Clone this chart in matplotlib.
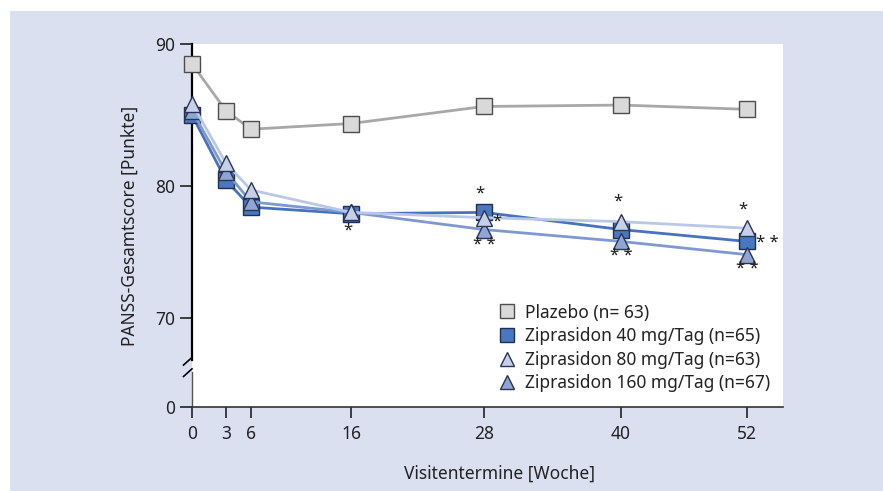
import numpy as np
import matplotlib
matplotlib.use('Agg')
import matplotlib.pyplot as plt
from matplotlib.lines import Line2D
from matplotlib.patches import Rectangle

plt.rcParams['font.family'] = ['Noto Sans', 'DejaVu Sans']

# data
weeks = [0, 3, 6, 16, 28, 40, 52]
plazebo = [88.6, 85.3, 84.0, 84.4, 85.6, 85.7, 85.4]
zip40 = [85.0, 80.4, 78.4, 77.9, 78.0, 76.7, 75.8]
zip80 = [85.8, 81.6, 79.7, 78.0, 77.6, 77.3, 76.8]
zip160 = [85.3, 81.0, 78.8, 78.0, 76.7, 75.8, 74.8]
labels = ['Plazebo (n= 63)', 'Ziprasidon 40 mg/Tag (n=65)',
          'Ziprasidon 80 mg/Tag (n=63)', 'Ziprasidon 160 mg/Tag (n=67)']
# significance marks (week, score, text)
stars = [(15.7, 76.6, '*'), (27.6, 79.4, '*'), (29.1, 77.3, '*'), (28.0, 75.5, '* *'),
         (39.7, 78.8, '*'), (40.0, 74.7, '* *'), (51.6, 78.2, '*'), (53.9, 75.7, '* *'),
         (52.0, 73.7, '* *')]

# broken / uneven axis scales as in the original drawing
xv = [-5, 0, 3, 6, 16, 28, 40, 52, 60]
xp = [-53, 0, 34, 59, 159, 292, 429, 555, 640]
yv = [-10, 0, 70, 80, 90, 100]
yp = [-89 / 7, 0, 89, 221, 363, 505]

fx = lambda v: np.interp(v, xv, xp)
ix = lambda p: np.interp(p, xp, xv)
fy = lambda v: np.interp(v, yv, yp)
iy = lambda p: np.interp(p, yp, yv)

fig = plt.figure(figsize=(8.83, 4.91), dpi=100, facecolor='white')
fig.patches.append(Rectangle((10 / 883, 0), 1, 480 / 491, transform=fig.transFigure,
                             facecolor='#dbe0f1', edgecolor='none', zorder=-10))
ax = fig.add_axes([192 / 883, 84 / 491, 591 / 883, 363 / 491])
ax.set_facecolor('white')
ax.set_xscale('function', functions=(fx, ix))
ax.set_yscale('function', functions=(fy, iy))
ax.set_xlim(0, ix(591))
ax.set_ylim(0, 90)

ax.plot(weeks, plazebo, color='#a8a8a8', lw=2, marker='s', ms=11,
        mfc='#d9d9d9', mec='#4d4d4d', mew=1, zorder=3, clip_on=False)
ax.plot(weeks, zip40, color='#4673bb', lw=2, marker='s', ms=11,
        mfc='#4a78c0', mec='#1f2f4f', mew=1, zorder=4, clip_on=False)
ax.plot(weeks, zip160, color='#7f99d0', lw=2, marker='^', ms=12,
        mfc='#8fa5d6', mec='#2a3550', mew=1, zorder=5, clip_on=False)
ax.plot(weeks, zip80, color='#bac8e7', lw=2, marker='^', ms=12,
        mfc='#c6d0ea', mec='#2a3550', mew=1, zorder=6, clip_on=False)

for x, y, t in stars:
    ax.text(x, y, t, ha='center', va='center', fontsize=12, color='#222222', zorder=7)

# axes
for s in ['top', 'right', 'left']:
    ax.spines[s].set_visible(False)
ax.spines['bottom'].set_color('#333333')
ax.spines['bottom'].set_linewidth(1.2)
ax.plot([0, 0], [37, 90], color='black', lw=1.6, clip_on=False, zorder=2)
ax.plot([0, 0], [0, 27.5], color='#555555', lw=1, clip_on=False, zorder=2)
ax.plot([-0.8, 0], [33, 39], color='black', lw=1.2, clip_on=False)
ax.plot([-0.8, 0], [24, 30], color='black', lw=1.2, clip_on=False)

ax.set_xticks(weeks)
ax.set_yticks([0, 70, 80, 90])
ax.tick_params(axis='both', direction='out', length=9, width=1.2, color='#222222',
               labelsize=12.5, labelcolor='#222222')
ax.tick_params(axis='x', length=8, pad=5)
ax.tick_params(axis='y', pad=3)

ax.set_ylabel('PANSS-Gesamtscore [Punkte]', fontsize=12.5, color='#222222')
ax.set_xlabel('Visitentermine [Woche]', fontsize=12.5, color='#222222')
ax.yaxis.set_label_coords(-0.09, 0.5)
ax.xaxis.set_label_coords(0.52, -0.16)

handles = [
    Line2D([], [], ls='none', marker='s', ms=10, mfc='#d9d9d9', mec='#4d4d4d'),
    Line2D([], [], ls='none', marker='s', ms=10, mfc='#4a78c0', mec='#1f2f4f'),
    Line2D([], [], ls='none', marker='^', ms=10, mfc='#c6d0ea', mec='#2a3550'),
    Line2D([], [], ls='none', marker='^', ms=10, mfc='#8fa5d6', mec='#2a3550'),
]
ax.legend(handles, labels, loc='upper left', bbox_to_anchor=(0.52, 0.285), frameon=False,
          fontsize=12.5, handlelength=0.9, handletextpad=0.6, labelspacing=0.32,
          borderaxespad=0, borderpad=0, labelcolor='#222222')

fig.savefig('out.png', dpi=100, facecolor=fig.get_facecolor())
